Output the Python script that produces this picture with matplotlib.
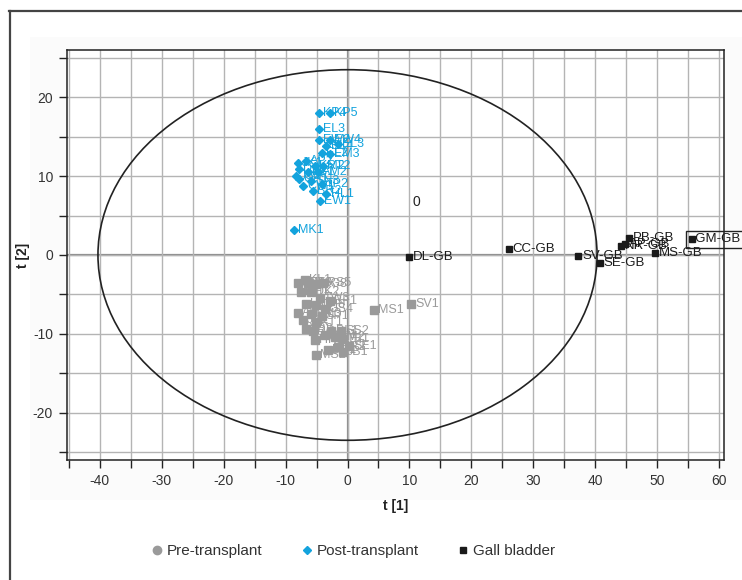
import matplotlib
matplotlib.use("Agg")
import matplotlib.pyplot as plt
from matplotlib.patches import Ellipse, Rectangle
from matplotlib.lines import Line2D
from matplotlib.ticker import MultipleLocator

plt.rcParams['font.family'] = ['Liberation Sans', 'DejaVu Sans']
plt.rcParams['axes.unicode_minus'] = False

# ---------------- data ----------------
pre_x = [-8.0, -6.9, -6.4, -5.1, -4.0, -7.5, -5.9, -4.5, -2.9, -6.7, -5.1, -3.7,
         -8.0, -5.9, -4.2, -7.2, -5.1, -6.7, -5.6, -2.6, -1.0, -3.7, -2.1, -0.8,
         -5.3, 0.3, -1.6, -3.2, -5.1, -0.8, 4.2, 10.3]
pre_y = [-3.5, -3.2, -3.5, -3.7, -3.5, -4.7, -4.7, -5.4, -5.8, -6.2, -6.4, -6.8,
         -7.3, -7.5, -7.7, -8.3, -8.5, -9.4, -9.6, -9.6, -9.6, -10.2, -10.4, -10.6,
         -10.8, -11.5, -11.7, -12.1, -12.7, -12.3, -7.0, -6.2]
pre_labels = ["AB2", "KL1", "JT3", "MG8", "RS5", "PH1", "DK2", "TW3", "BF1", "LN2",
              "CH6", "GS4", "AR1", "NM3", "SP1", "JH2", "KT1", "VB3", "RD", "PL1",
              "SS2", "DW1", "EM2", "TB1", "HK3", "SE1", "FR2", "LM1", "MS2", "JB1",
              "MS1", "SV1"]

post_x = [-4.6, -2.9, -4.6, -4.6, -2.9, -1.6, -3.4, -4.2, -2.9, -8.0, -6.7, -5.3,
          -7.8, -4.0, -6.4, -4.8, -7.8, -5.9, -4.2, -7.2, -5.6, -3.4, -4.5, -8.3,
          -8.6]
post_y = [18.0, 18.0, 16.0, 14.6, 14.6, 14.1, 13.8, 12.9, 12.8, 11.7, 11.9, 11.3,
          10.9, 11.3, 10.5, 10.5, 9.6, 9.4, 9.0, 8.8, 8.1, 7.7, 6.9, 10.0, 3.2]
post_labels = ["KP4", "KP5", "EL3", "EW2", "EW4", "EL3", "EL4", "EL2", "EM3",
               "JK1", "AP2", "KM2", "DS1", "RT2", "LB1", "AM2", "GH1", "SN3",
               "TP2", "CW1", "BR2", "HL1", "EW1", "JS2", "MK1"]

gb_x = [9.9, 26.0, 37.2, 40.7, 45.4, 44.1, 44.8, 49.6, 55.7]
gb_y = [-0.2, 0.8, -0.1, -1.0, 2.2, 1.1, 1.4, 0.25, 2.0]
gb_labels = ["DL-GB", "CC-GB", "SV-GB", "SE-GB", "PB-GB", "NR-GB", "AP-GB",
             "MS-GB", "GM-GB"]

ellipse_axes = (40.3, 23.5)
x_ticks = [-40, -30, -20, -10, 0, 10, 20, 30, 40, 50, 60]
y_ticks = [-20, -10, 0, 10, 20]

pre_color = "#9a9a9a"
post_color = "#13a3dd"
gb_color = "#1a1a1a"

# ---------------- figure ----------------
fig = plt.figure(figsize=(7.42, 5.8), dpi=100)

# light panel background and outer frame
fig.add_artist(Rectangle((30/742, 1-500/580), (742-30)/742, (500-37)/580,
                         transform=fig.transFigure, fc="#fbfbfb", ec="none", zorder=0))
fig.add_artist(Line2D([9.5/742, 9.5/742], [0, 1-10.5/580], transform=fig.transFigure,
                      color="#444444", lw=1.6))
fig.add_artist(Line2D([9/742, 1], [1-10.5/580, 1-10.5/580], transform=fig.transFigure,
                      color="#444444", lw=1.6))

ax = fig.add_axes([67/742, 1-460/580, (724-67)/742, (460-50)/580])
ax.set_facecolor("white")
ax.set_xlim(-45.3, 60.8)
ax.set_ylim(-26, 26)

ax.xaxis.set_minor_locator(MultipleLocator(5))
ax.yaxis.set_minor_locator(MultipleLocator(5))
ax.set_xticks(x_ticks)
ax.set_yticks(y_ticks)
ax.grid(True, which="both", color="#b4b4b4", lw=1.0, zorder=1)
ax.axhline(0, color="#8a8a8a", lw=1.6, zorder=1.5)
ax.axvline(0, color="#8a8a8a", lw=1.6, zorder=1.5)

ax.tick_params(which="both", direction="out", length=6, width=1, color="#222222")
ax.tick_params(which="major", labelsize=10, labelcolor="#333333", pad=4)
for s in ax.spines.values():
    s.set_color("#222222")
    s.set_linewidth(1.1)

ax.add_patch(Ellipse((0, 0), 2*ellipse_axes[0], 2*ellipse_axes[1], fill=False,
                     ec="#222222", lw=1.2, zorder=2))

ax.plot(pre_x, pre_y, ls="none", marker="s", ms=5.4, color=pre_color, zorder=4)
ax.plot(post_x, post_y, ls="none", marker="D", ms=4.3, color=post_color, zorder=4)
ax.plot(gb_x, gb_y, ls="none", marker="s", ms=4.5, color=gb_color, zorder=4)

for x, y, t in zip(pre_x, pre_y, pre_labels):
    ax.annotate(t, (x, y), xytext=(3, 0), textcoords="offset points", va="center",
                ha="left", fontsize=9, color=pre_color, zorder=3)
for x, y, t in zip(post_x, post_y, post_labels):
    ax.annotate(t, (x, y), xytext=(3, 0), textcoords="offset points", va="center",
                ha="left", fontsize=9, color=post_color, zorder=3)
for x, y, t in zip(gb_x, gb_y, gb_labels):
    if t == "GM-GB":
        ax.annotate("  " + t, (x, y), xytext=(-3, 0), textcoords="offset points",
                    va="center", ha="left", fontsize=9.5, color=gb_color, zorder=3,
                    annotation_clip=False,
                    bbox=dict(boxstyle="square,pad=0.2", fc="none", ec="#222222", lw=1))
    else:
        ax.annotate(t, (x, y), xytext=(3, 0), textcoords="offset points", va="center",
                    ha="left", fontsize=9.5, color=gb_color, zorder=3)

ax.text(10.5, 6.7, "0", fontsize=10, color="#222222", ha="left", va="center", zorder=3)

ax.set_xlabel("t [1]", fontsize=10, fontweight="bold", color="#222222", labelpad=8)
ax.set_ylabel("t [2]", fontsize=10, fontweight="bold", color="#222222", labelpad=2)

handles = [
    Line2D([], [], ls="none", marker="o", ms=6, color=pre_color),
    Line2D([], [], ls="none", marker="D", ms=4.5, color=post_color),
    Line2D([], [], ls="none", marker="s", ms=5, color=gb_color),
]
fig.legend(handles, ["Pre-transplant", "Post-transplant", "Gall bladder"],
           loc="center", bbox_to_anchor=(353/742, 1-551/580), ncol=3, frameon=False,
           fontsize=11, handlelength=0.8, handletextpad=0.25, columnspacing=2.5,
           labelcolor="#333333")

fig.savefig("out.png", dpi=100)
